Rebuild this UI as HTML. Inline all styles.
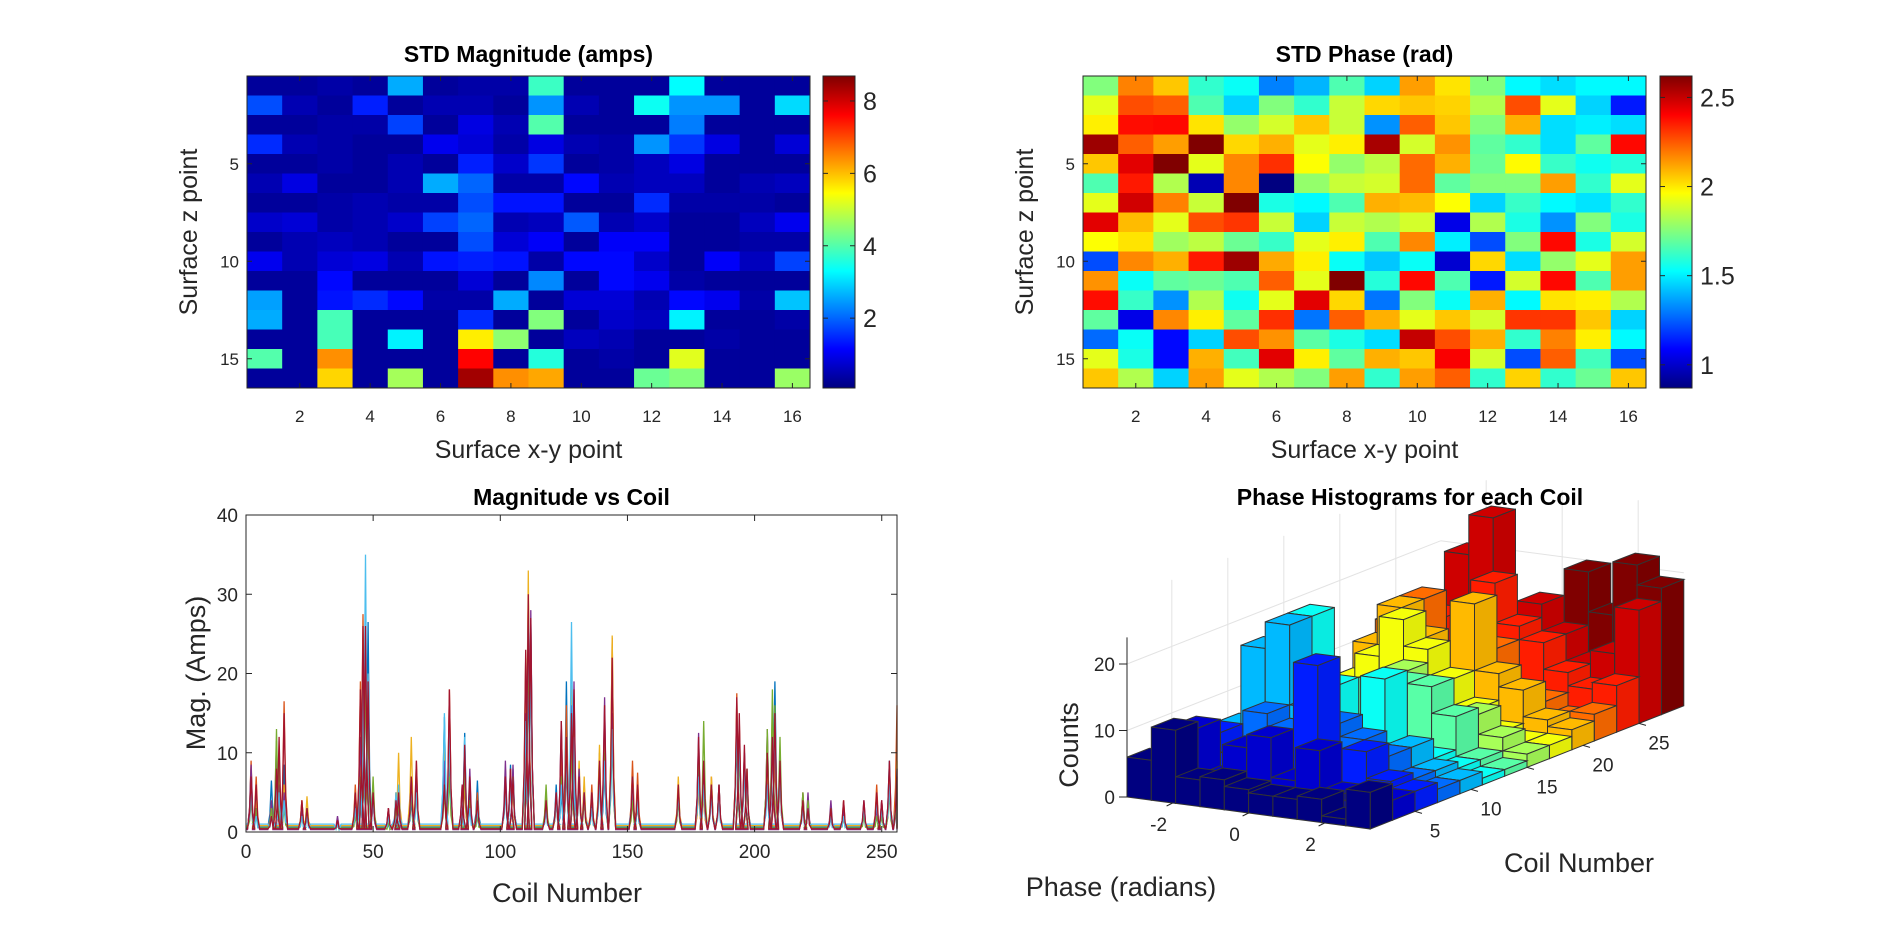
<!DOCTYPE html>
<html><head><meta charset="utf-8"><style>
html,body{margin:0;padding:0;background:#fff;}
svg text{font-family:"Liberation Sans",Arial,sans-serif;}
</style></head>
<body>
<svg id="fig" width="1900" height="935" viewBox="0 0 1900 935" xmlns="http://www.w3.org/2000/svg">
<rect x="0" y="0" width="1900" height="935" fill="#fff"/>
<defs>
<linearGradient id="jetGrad" x1="0" y1="1" x2="0" y2="0"></linearGradient>
</defs>
<g id="hm1"></g>
<g id="hm2"></g>
<g id="lp"></g>
<g id="h3"></g>
</svg>
<script>
// ---------- DATA ----------
const magStd = [
[.3,.3,.4,.3,2.6,.3,.4,.4,3.8,.3,.3,.3,3.3,.3,.3,.3],
[1.8,.5,.3,1.4,.3,.5,.5,.3,2.4,.5,.3,3.4,2.4,2.4,.3,3.0],
[.3,.3,.4,.4,1.7,.3,.9,.5,4.0,.3,.3,.3,2.2,.3,.3,.3],
[1.5,.5,.4,.3,.3,1.0,.8,.4,.9,.5,.4,2.4,1.6,.9,.3,.8],
[.3,.3,.4,.3,.5,.3,1.4,.7,1.6,.3,.4,.6,.9,.3,.3,.3],
[.5,.9,.3,.3,.5,2.6,2.0,.4,.4,1.2,.5,.6,.6,.3,.5,.6],
[.3,.3,.4,.5,.4,.4,1.8,1.3,1.3,.3,.3,1.5,.4,.4,.4,.3],
[.7,.8,.4,.5,.7,1.7,2.0,.5,.6,1.9,.5,.7,.3,.3,.6,1.0],
[.3,.5,.6,.5,.3,.3,1.8,.8,1.1,.3,1.1,1.1,.3,.3,.4,.4],
[1.0,.5,.8,.9,.5,1.3,1.4,1.3,.4,1.2,1.2,.7,.3,1.1,.6,1.7],
[.3,.3,1.2,.3,.3,.3,.8,.3,2.3,.3,1.2,1.0,.4,.3,.3,.3],
[2.5,.3,1.3,1.5,1.2,.4,.4,2.6,.3,.8,.8,.5,1.2,1.0,.4,2.8],
[2.6,.3,3.9,.3,.3,.3,1.5,.3,4.4,.3,.7,.6,3.2,.3,.3,.4],
[.3,.3,3.9,.3,3.2,.3,5.6,4.5,.3,.6,.5,.3,.3,.4,.3,.3],
[4.0,.3,6.4,.3,.3,.3,7.6,.3,3.6,.3,.4,.3,5.2,.3,.3,.3],
[.3,.3,5.8,.3,4.7,.3,8.4,6.4,6.2,.3,.3,4.2,4.4,.3,.3,4.6]];
const phaseStd = [
[1.75,2.18,2.06,1.61,1.54,1.31,1.40,1.66,1.45,2.13,2.01,1.75,1.52,1.47,1.52,1.52],
[1.92,2.27,2.24,1.66,1.45,1.75,1.61,1.87,2.03,2.06,2.04,1.83,2.27,1.92,1.45,1.13],
[1.99,2.38,2.39,2.01,1.78,1.89,2.06,1.87,1.34,2.24,2.06,1.75,2.10,1.47,1.50,1.47],
[2.57,2.24,2.13,2.62,2.03,2.10,1.92,1.99,2.55,1.89,2.15,1.69,1.61,1.47,1.69,2.39],
[2.06,2.45,2.62,1.92,2.17,2.32,1.96,1.78,1.85,2.22,2.10,1.71,1.97,1.62,1.55,1.59],
[1.66,2.36,1.83,.96,2.17,.87,1.78,1.87,1.89,2.22,1.69,1.75,1.75,2.13,1.61,1.92],
[1.92,2.48,2.18,1.87,2.62,1.57,1.52,1.66,2.10,2.08,1.96,1.45,1.62,1.52,1.48,1.61],
[2.45,2.08,1.92,2.27,2.31,1.87,1.45,1.87,1.83,1.89,1.05,1.83,1.57,1.34,1.75,1.57],
[1.96,2.01,1.80,1.85,1.71,1.62,1.92,1.99,1.66,2.17,1.50,1.22,1.75,2.39,1.57,1.89],
[1.22,2.17,2.10,2.36,2.57,2.11,1.99,1.54,1.43,1.54,1.01,2.03,1.47,1.78,1.92,2.13],
[2.15,1.54,1.69,1.71,1.66,2.24,1.92,2.62,1.59,2.39,1.66,1.13,1.89,2.39,1.66,2.13],
[2.38,1.62,1.34,1.83,1.55,1.92,2.45,2.03,1.29,1.75,1.54,2.10,1.52,2.01,1.99,1.83],
[1.69,1.05,2.17,1.99,1.69,2.32,1.29,2.24,2.10,1.92,2.06,1.89,2.31,2.31,2.06,1.45],
[1.27,1.54,1.10,1.45,2.27,2.15,1.68,1.57,1.47,2.50,2.27,2.10,1.61,2.18,1.99,1.52],
[1.92,1.57,1.10,2.10,1.64,2.45,1.99,1.69,2.10,2.06,2.41,1.89,1.22,2.24,1.64,1.22],
[2.06,1.83,1.45,2.13,1.92,1.83,1.75,2.13,1.61,2.13,2.24,1.61,2.04,1.61,1.71,2.06]];
const magClim = [0.07, 8.69];
const phaseClim = [0.87, 2.62];
const magCbTicks = [2,4,6,8];
const phaseCbTicks = [1,1.5,2,2.5];
const hmXTicks = [2,4,6,8,10,12,14,16];
const hmYTicks = [5,10,15];

const peakCoils = [2,4,10,12,13, 15,22,24,36,43, 45,46,47,48,50, 56,59,60,65,67, 78,80,85,86,88, 91,102,104,105,110, 111,112,118,122,124, 126,128,129,131,133, 136,139,141,144,152, 154,170,178,180,183, 186,193,194,196,197, 205,207,208,210,219, 221,230,235,243,248, 250,253,256];
const series1 = [8,5,6.5,9,7, 8.5,3,2,1.5,4, 6,15,21,26.5,5, 2,4,6,4,8, 14.5,10,4,12.5,5, 6.5,6,8.5,8,18, 20,27,3,6,5, 19,12,10,7,5, 4,10,8,14,6, 4,6,9,6,5, 6,12,11,10,8, 7,13,19,9,4, 3,2,3,3,5, 3,9,7];
const series2 = [9,7,3,6,5, 16.5,4,3,1.2,6, 19,27.5,23,20,4, 3,5,4,5,7, 8,18,5,6,4, 5,8,7,6,22, 30,24,5,4,10, 16,14,11,8,6, 6,9,11,24.5,9, 7.5,5,6,5,7, 5,17.5,14,9,7, 12,15,9,7,4, 3,3,4,3,6, 4,8,16];
const series3 = [6,4,4,10,8, 6,4,4.5,1,5, 10,24,25,16,6, 2,5,10,12,9, 11,12,3,7,4, 4,7,8,6,20, 33,26,4,5,7, 12,18.5,15,9,7, 5,11,12,24.8,6, 6,7,6,5,7, 6,16,13,9,8, 9,16,12,7,5, 4,3,2,3,4, 3,7,9];
const series4 = [8.5,3,4,11.5,6, 5,3,3,2,3, 12,19,27,18,4, 3,4,3,7,7, 9,15,6,10,8, 3,9,8,8.5,15, 23,28,4,5,14, 8,16,19,8,5, 5,8,17,15,5, 4,5,12.5,8,6, 6,15,12,10,7, 13,11,13,8,5, 5,4,3,4,3, 4,6,5];
const series5 = [4,3,3,13,9, 3,2,3,1,2, 7,17,22,13,7, 1,3,4,5,5, 5,7,3,8.5,4, 2,6,7,7,12, 25,22,6,4,7, 9,11,14,6,4, 3,7,10,12,4, 4,4,11,14,6, 5,13,10,9,6, 13,18,16,12,5, 4,3,2,2,2, 2,5,6];
const series6 = [5,2,2,7,5, 4,2,2,1,3, 6,18,35,20,4, 2,5,6,6,5, 15,13,3,12,3, 3,5,6,7,14, 29,21,3,4,6, 10,26.5,12,6,5, 3,6,9,13,7, 4,5,7,6,5, 4,14,12,8,7, 6,12,14,7,3, 3,2,2,3,4, 3,6,8];
const series7 = [7,6,2,8,12, 15,4,3,1.5,5, 18,26,26,19,5, 3,4,5,7,9, 6,18,6,11,7, 4,7,8,7,23, 30,27,4,5,14, 12,15,18,7,5, 5,9,16,22,7, 6,6,12,9,6, 6,17,15,11,8, 10,12,15,9,4, 3,3,4,4,5, 4,9,8];
const seriesBaseline = [0.6,0.4,0.8,0.3,0.5,1.0,0.4];
const lineXTicks = [0,50,100,150,200,250];
const lineYTicks = [0,10,20,30,40];

const phaseBinCenters = [-2.88,-2.24,-1.6,-0.96,-0.32,0.32,0.96,1.6,2.24,2.88];
const coilRowCenters = [2,4,6,8,10,12,14,16,18,20,22,24,26,28];
const histCounts = [
[6,11,4,4.5,3.5,3,3,3.5,1,5.5],
[5,10,3,8,10,4,9,3,2,3],
[3,8,5,4,8,20,6,8,4,3],
[4,6,10,8,5,10,8,6,3,2],
[6,18,22,10,5,4,3,6,3,2],
[5,8,22,12,6,14,4,3,2,1],
[2,6,4,9,12,12,12,8,2,1],
[3,5,8,6,12,6,5,7,4,2],
[4,8,12,18,14,10,6,3,2,2],
[5,12,18,14,10,20,10,8,4,3],
[4,14,18,10,8,12,6,5,3,4],
[3,8,14,10,20,14,12,8,6,7],
[5,10,22,28,10,16,12,8,10,17],
[6,8,12,8,10,14,20,14,22,19]];
const phaseTicks = [-2,0,2];
const coilTicks = [5,10,15,20,25];
const countTicks = [0,10,20];

// ---------- HELPERS ----------
const NS = "http://www.w3.org/2000/svg";
function mk(tag, attrs, parent){const e=document.createElementNS(NS,tag);for(const k in attrs)e.setAttribute(k,attrs[k]);if(parent)parent.appendChild(e);return e;}
function jet(t){t=Math.max(0,Math.min(1,t));const c=v=>Math.round(255*Math.max(0,Math.min(1,v)));
 return [c(1.5-Math.abs(4*t-3)),c(1.5-Math.abs(4*t-2)),c(1.5-Math.abs(4*t-1))];}
function rgb(a,f){f=f||1;return `rgb(${Math.min(255,Math.round(a[0]*f))},${Math.min(255,Math.round(a[1]*f))},${Math.min(255,Math.round(a[2]*f))})`;}
const grad=document.getElementById('jetGrad');
for(let i=0;i<=64;i++){mk('stop',{offset:(i/64),'stop-color':rgb(jet(i/64))},grad);}
function txt(p,x,y,s,size,opts){const t=mk('text',Object.assign({x:x,y:y,'font-size':size,fill:'#262626','text-anchor':'middle'},opts||{}),p);t.textContent=s;return t;}

// ---------- HEATMAPS ----------
function heatmap(gid, data, clim, cbTicks, title, L, R, cbx){
 const g=document.getElementById(gid);
 const T=76,B=388,n=16,cw=(R-L)/n,rh=(B-T)/n;
 const xs=c=>L+(c-0.5)*cw, ys=r=>T+(r-0.5)*rh;
 data.forEach((row,r)=>row.forEach((v,c)=>{
  const e=mk('rect',{x:xs(c+1)-cw/2,y:ys(r+1)-rh/2,width:cw+0.5,height:rh+0.5,fill:rgb(jet((v-clim[0])/(clim[1]-clim[0])))},g);
  
  
 }));
 mk('rect',{x:L,y:T,width:R-L,height:B-T,fill:'none',stroke:'#262626','stroke-width':1},g);
 hmXTicks.forEach(t=>{const x=xs(t);mk('line',{x1:x,y1:B,x2:x,y2:B-5,stroke:'#262626'},g);mk('line',{x1:x,y1:T,x2:x,y2:T+5,stroke:'#262626'},g);
  const e=txt(g,x,422,String(t),17);});
 hmYTicks.forEach(t=>{const y=ys(t);mk('line',{x1:L,y1:y,x2:L+5,y2:y,stroke:'#262626'},g);mk('line',{x1:R,y1:y,x2:R-5,y2:y,stroke:'#262626'},g);
  const e=txt(g,L-8,y+6,String(t),17,{'text-anchor':'end'});});
 const tt=txt(g,(L+R)/2,62,title,23,{'font-weight':'bold',fill:'#000'});
 const xl=txt(g,(L+R)/2,458,'Surface x-y point',25);
 const yl=txt(g,0,0,'Surface z point',25,{transform:`translate(${L-50},${(T+B)/2}) rotate(-90)`});
 const cb=mk('rect',{x:cbx,y:T,width:32,height:B-T,fill:'url(#jetGrad)',stroke:'#262626','stroke-width':1},g);
 
 cbTicks.forEach(t=>{const y=B-(t-clim[0])/(clim[1]-clim[0])*(B-T);
  mk('line',{x1:cbx,y1:y,x2:cbx+5,y2:y,stroke:'#262626'},g);mk('line',{x1:cbx+32,y1:y,x2:cbx+27,y2:y,stroke:'#262626'},g);
  const e=txt(g,cbx+40,y+9,String(t),25,{'text-anchor':'start'});});
}
heatmap('hm1',magStd,magClim,magCbTicks,'STD Magnitude (amps)',247,810,823);
heatmap('hm2',phaseStd,phaseClim,phaseCbTicks,'STD Phase (rad)',1083,1646,1660);

// ---------- LINE PLOT ----------
(function(){
 const g=document.getElementById('lp');
 const L=246,R=897,T=515,B=832;
 const xs=c=>L+c/256*(R-L), ys=v=>B-v/40*(B-T);
 mk('rect',{x:L,y:T,width:R-L,height:B-T,fill:'#fff'},g);
 const all=[series1,series2,series3,series4,series5,series6,series7];
 const cols=['#0072BD','#D95319','#EDB120','#7E2F8E','#77AC30','#4DBEEE','#A2142F'];
 all.forEach((s,si)=>{
  const base=seriesBaseline[si];let pts=[[0,base]];
  peakCoils.forEach((c,i)=>{pts.push([c-1.4,base]);pts.push([c-0.6,s[i]*0.35]);pts.push([c,s[i]]);pts.push([c+0.6,s[i]*0.3]);pts.push([c+1.4,base]);});
  pts.push([256,base]);
  const d=pts.map((p,i)=>(i?'L':'M')+xs(Math.min(256,Math.max(0,p[0]))).toFixed(1)+','+ys(p[1]).toFixed(1)).join('');
  const e=mk('path',{d:d,fill:'none',stroke:cols[si],'stroke-width':1.3},g);
  
  
 });
 mk('rect',{x:L,y:T,width:R-L,height:B-T,fill:'none',stroke:'#262626'},g);
 lineXTicks.forEach(t=>{const x=xs(t);mk('line',{x1:x,y1:B,x2:x,y2:B-6,stroke:'#262626'},g);mk('line',{x1:x,y1:T,x2:x,y2:T+6,stroke:'#262626'},g);
  const e=txt(g,x,858,String(t),19);});
 lineYTicks.forEach(t=>{const y=ys(t);mk('line',{x1:L,y1:y,x2:L+6,y2:y,stroke:'#262626'},g);mk('line',{x1:R,y1:y,x2:R-6,y2:y,stroke:'#262626'},g);
  const e=txt(g,L-8,y+7,String(t),19,{'text-anchor':'end'});});
 const tt=txt(g,(L+R)/2,505,'Magnitude vs Coil',23,{'font-weight':'bold',fill:'#000'});
 const xl=txt(g,567,902,'Coil Number',27);
 const yl=txt(g,0,0,'Mag. (Amps)',27,{transform:`translate(205,673) rotate(-90)`});
})();

// ---------- 3D HISTOGRAM ----------
(function(){
 const g=document.getElementById('h3');
 const P=(p,c,z)=>[1127+(p+3.2)*38+(c-1)*11.2, 797+(p+3.2)*5-(c-1)*4.4-z*6.65];
 const pm=-3.2,pM=3.2,cm=1,cM=29,zM=30;
 const line=(a,b,st)=>mk('line',{x1:a[0],y1:a[1],x2:b[0],y2:b[1],stroke:st||'#e3e3e3','stroke-width':1},g);
 phaseTicks.forEach(t=>{line(P(t,cM,0),P(t,cM,zM));line(P(t,cm,0),P(t,cM,0));});
 coilTicks.forEach(t=>{line(P(pm,t,0),P(pm,t,zM));line(P(pm,t,0),P(pM,t,0));});
 countTicks.forEach(t=>{line(P(pm,cm,t),P(pm,cM,t));line(P(pm,cM,t),P(pM,cM,t));});
 const poly=(pts,fill,name)=>{const e=mk('polygon',{points:pts.map(q=>q[0].toFixed(1)+','+q[1].toFixed(1)).join(' '),fill:fill,stroke:'#333','stroke-width':1},g);
  return e;};
 const bw=0.32, bd=1.0;
 for(let r=histCounts.length-1;r>=0;r--){
  const col=jet(r/(histCounts.length-1));
  const c0=coilRowCenters[r]-bd,c1=coilRowCenters[r]+bd;
  histCounts[r].forEach((h,i)=>{
   const p0=phaseBinCenters[i]-bw,p1=phaseBinCenters[i]+bw;
   poly([P(p0,c0,h),P(p1,c0,h),P(p1,c1,h),P(p0,c1,h)],rgb(col,1.0),'histogram-bar-top');
   poly([P(p1,c0,0),P(p1,c1,0),P(p1,c1,h),P(p1,c0,h)],rgb(col,0.92),'histogram-bar-side');
   poly([P(p0,c0,0),P(p1,c0,0),P(p1,c0,h),P(p0,c0,h)],rgb(col,1.0),'histogram-bar');
  });
 }
 line(P(pm,cm,0),P(pm,cm,24),'#262626');
 countTicks.forEach(t=>{const a=P(pm,cm,t);line(a,[a[0]-8,a[1]],'#262626');
  const e=txt(g,a[0]-12,a[1]+7,String(t),19,{'text-anchor':'end'});});
 phaseTicks.forEach(t=>{const a=P(t,cm,0);line(a,[a[0]-6,a[1]+3],'#262626');
  const e=txt(g,a[0]-14,a[1]+28,String(t),19);});
 coilTicks.forEach(t=>{const a=P(pM,t,0);line(a,[a[0]+7,a[1]+2],'#262626');
  const e=txt(g,a[0]+20,a[1]+26,String(t),19);});
 const tt=txt(g,1410,505,'Phase Histograms for each Coil',23,{'font-weight':'bold',fill:'#000'});
 const xl=txt(g,1121,896,'Phase (radians)',27);
 const yl=txt(g,1579,872,'Coil Number',27);
 const zl=txt(g,0,0,'Counts',27,{transform:`translate(1078,745) rotate(-90)`});
})();
</script>
</body></html>
